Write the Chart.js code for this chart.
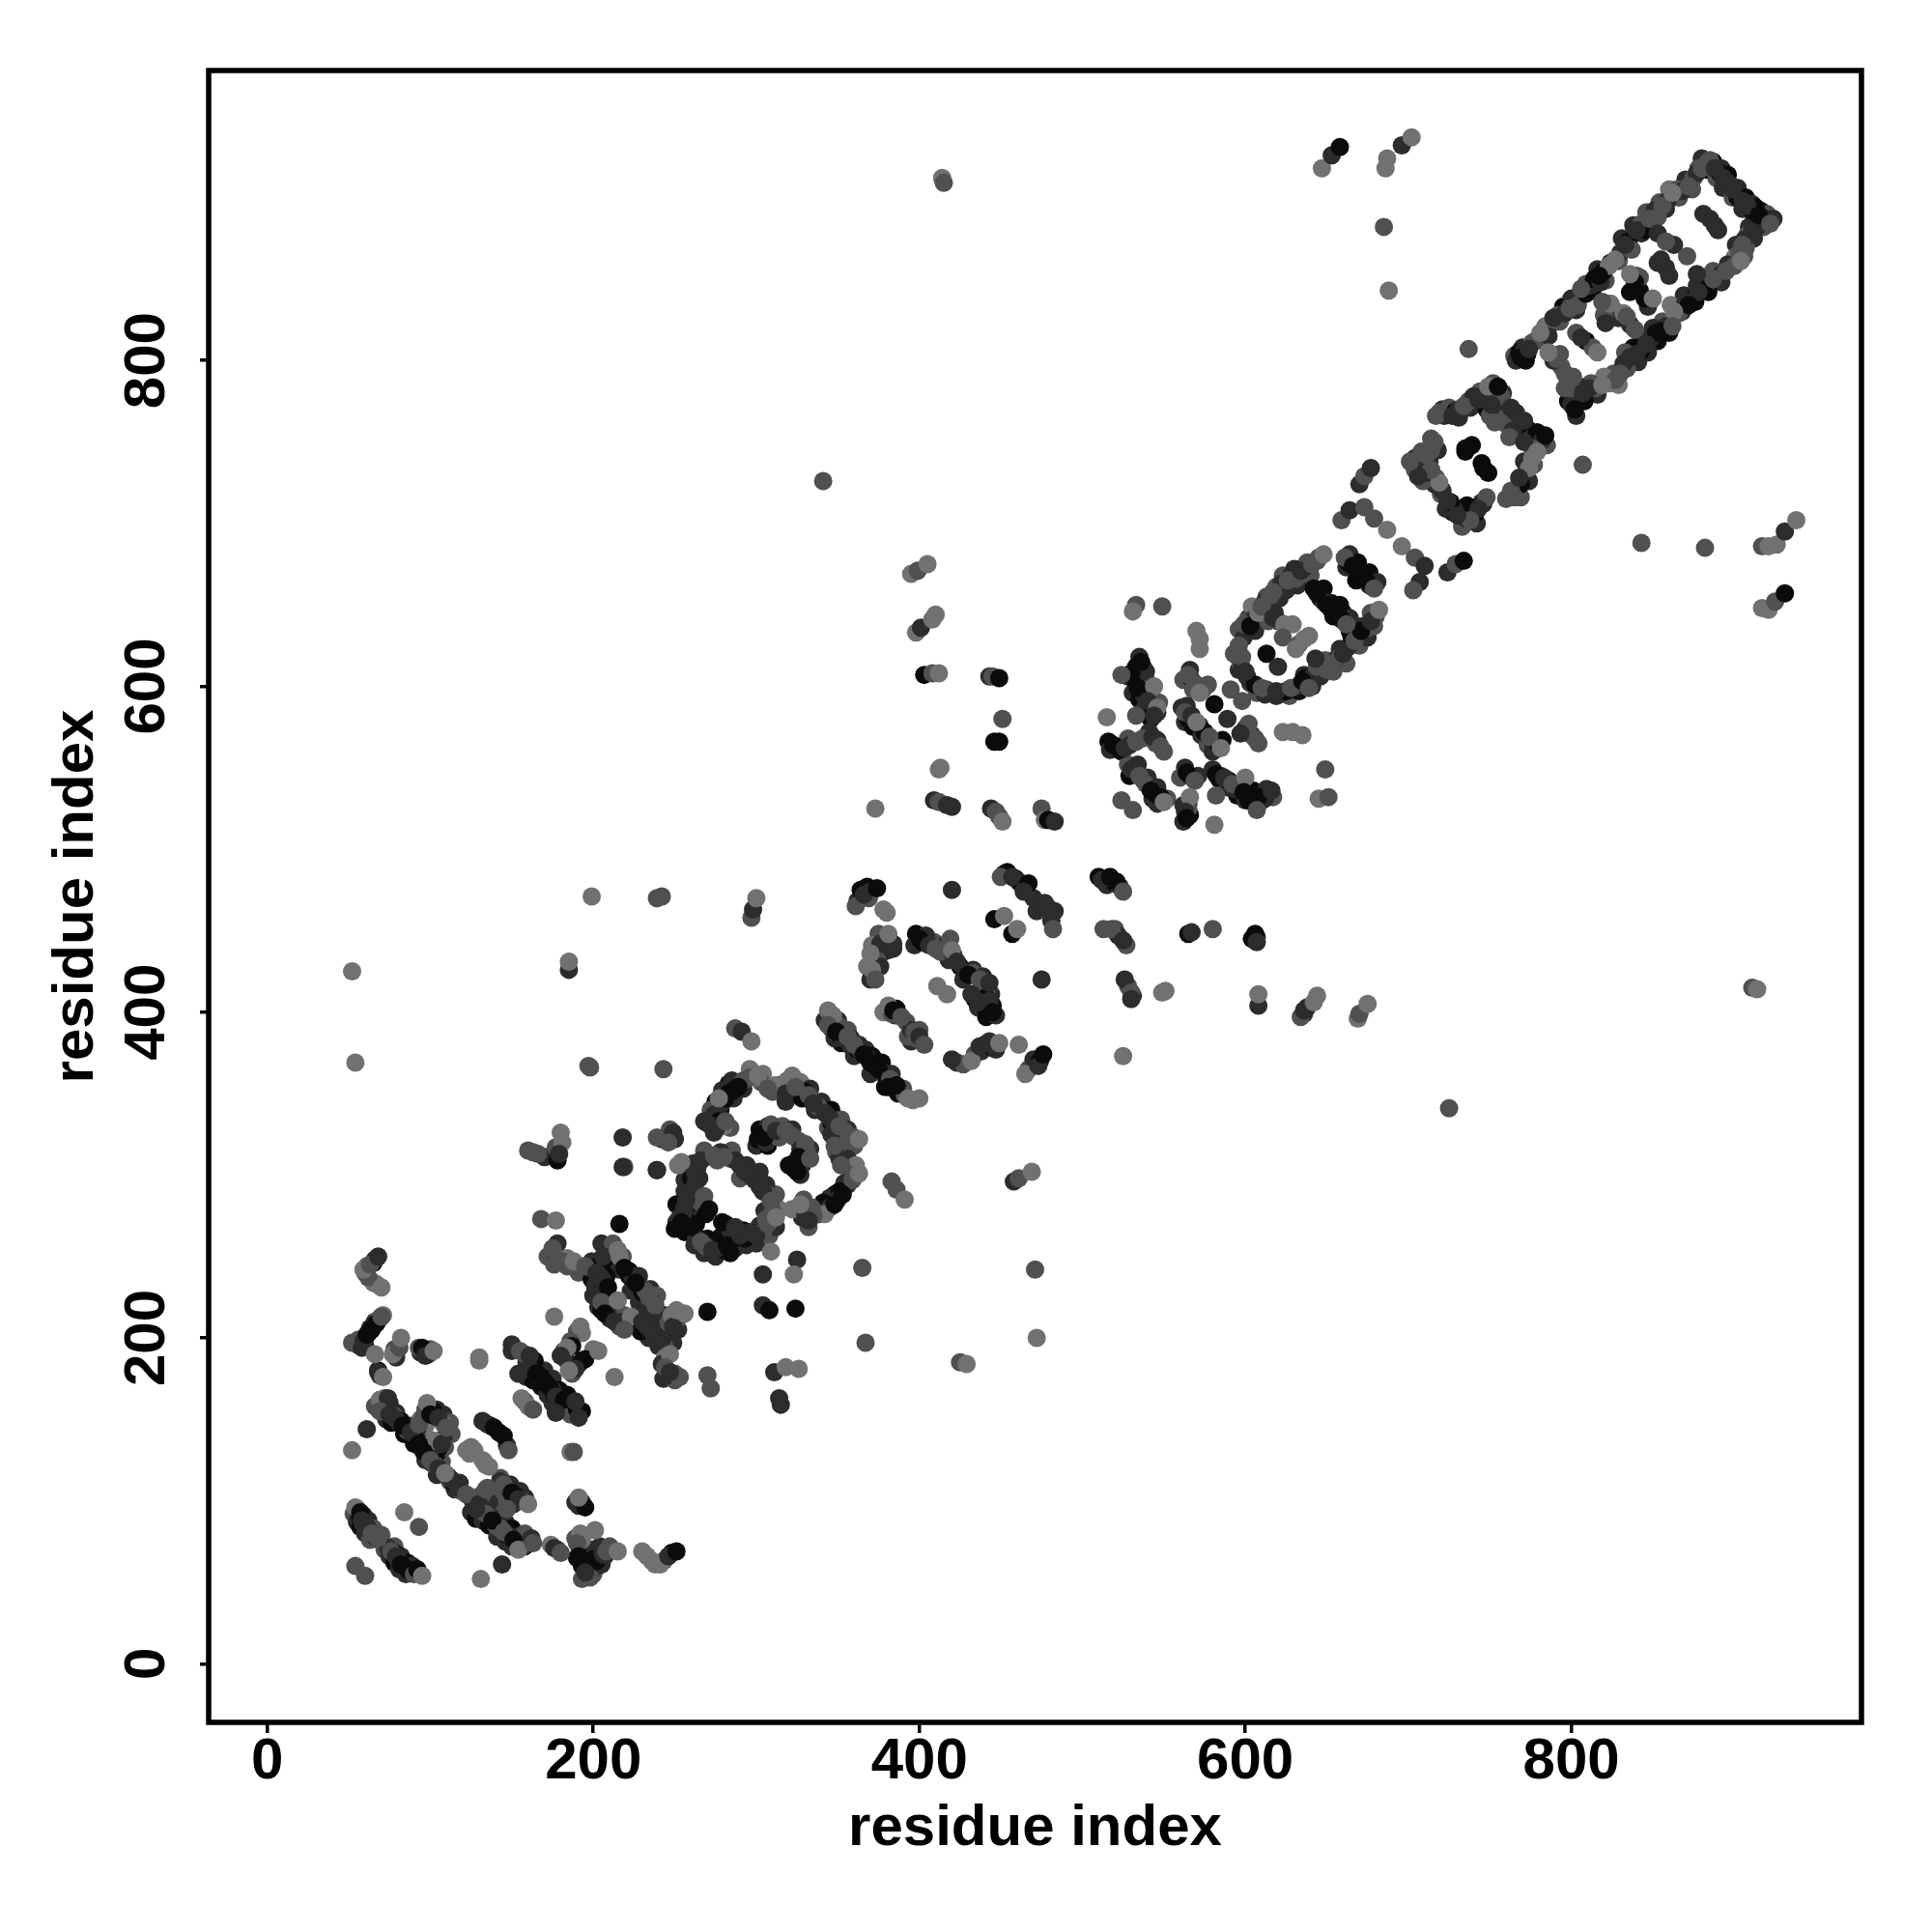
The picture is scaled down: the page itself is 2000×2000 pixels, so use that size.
<!DOCTYPE html>
<html>
<head>
<title>Residue contact map</title>
<script src="https://cdn.jsdelivr.net/npm/chart.js"></script>
<style>body { margin: 0; background: #fff; }</style>
</head>
<body>
<canvas id="contactChart" width="2000" height="2000"></canvas>
<script>
const tickValues = [0, 200, 400, 600, 800];
const axisLabel = "residue index";
// score: 0 strongest (black) .. 3 weakest (grey)
const scoreColors = ["#0b0b0b", "#2c2c2c", "#505050", "#717171"];

// each contact is [residue x, residue y, score]
const lowerLeftEdges = [
  [70,160,1],[66,158,2],[73,150,1],[76,148,0],[79,154,1],[84,141,0],[88,146,1],[90,135,0],[96,137,1],[97,125,1],[102,128,1],[104,116,1],[107,124,2],[112,112,2],[115,107,1],[118,111,1],[97,156,2],[104,156,1],[108,153,1],[112,148,2],[113,141,2],[104,129,0],[100,136,1],[97,146,3],[92,144,1],
  [125,93,1],[128,89,0],[132,88,1],[136,85,0],[141,78,1],[146,75,1],[150,72,1],[137,97,1],[141,91,2],[146,87,1],[150,83,0],[153,78,1],[158,80,2],[148,100,1],[144,104,1],[151,98,1],[143,114,2],[149,110,1],[155,106,1],[158,102,1],
  [53,92,2],[55,87,1],[57,84,0],[60,80,1],[63,76,2],[72,70,2],[75,66,1],[78,62,0],[81,58,1],[85,55,1],[59,91,1],[62,88,1],[65,83,2],[70,79,2],[78,72,2],[82,66,1],[86,62,0],[89,60,1],
  [150,196,1],[159,185,1],[159,176,1],[163,174,0],[168,170,0],[172,165,1],[175,160,1],[180,157,1],[186,153,2],[170,180,1],[175,175,1],[179,168,0],[184,165,0],[188,158,1],[193,155,0],
  [190,65,0],[193,60,0],[196,58,0],[200,57,1],[205,61,1],[196,68,0],[199,70,1],[204,72,1],[210,72,2],[193,52,2],
  [178,258,1],[172,250,2],[176,245,2],[184,244,2],[191,240,2],[199,236,0],[201,232,1],[203,227,0],[209,224,1],[213,217,1],[219,214,2],[218,210,1],[205,258,1],[210,252,1],[209,243,0],[216,242,1],[223,229,1],[228,222,1],[233,216,1],[238,212,1],[240,200,0],[245,198,0],[234,200,1],[229,204,0],[222,238,0],[228,238,1],[235,230,1],[239,226,2],[244,214,1],[252,205,1],[249,197,1],[244,194,2],[243,175,1],[250,174,2]
];

const firstClusterEdges = [
  [268,315,2],[261,307,1],[259,303,0],[256,297,1],[265,298,1],[256,290,1],[261,286,1],[251,282,0],[259,278,1],[251,271,1],[250,267,0],[256,265,0],[263,270,0],[262,257,1],[268,252,1],[270,261,0],[275,250,1],[280,254,0],[278,262,0],[287,255,1],[284,252,0],[292,266,0],[294,257,1],[300,258,1],[302,269,1],[308,263,2],[312,268,1],[314,279,3],[305,278,1],[312,288,2],[306,294,1],[299,297,1],[302,302,1],[294,306,1],[285,315,2],[278,314,1],[290,298,2],
  [283,356,0],[279,352,1],[275,345,0],[272,340,2],[268,333,1],[274,326,1],[284,329,2],[278,340,0],[286,347,1],[292,353,1],[296,365,3],[304,362,3],[310,351,2],[314,355,1],[318,345,1],[319,358,3],[327,357,3],[333,353,1],[336,340,1],[340,345,1],[346,340,0],[344,329,2],[352,334,2],[356,328,1],[360,318,2],[354,318,2],[356,310,1],[361,306,3],[356,294,1],[348,288,0],[345,286,1],[341,283,0],[338,276,1],[332,268,2],[328,274,1],[322,279,3],
  [302,328,0],[307,330,1],[300,318,1],[307,318,0],[316,330,2],[322,328,1],[326,321,2],[333,316,1],[329,309,0],[320,306,0],[327,300,1],
  [342,395,1],[344,401,3],[350,395,1],[352,381,0],[348,384,1],[356,389,2],[360,373,1],[363,380,1],[367,377,1],[371,373,0],[370,362,1],[377,369,0],[379,354,0],[383,362,1],[387,350,0],[390,353,2],
  [378,437,1],[375,448,2],[384,439,1],[371,441,3],[368,428,3],[370,420,1],[398,448,0],[397,441,1],[405,444,1],[409,443,2],[418,432,1],[427,420,1],[433,426,1],[439,415,0],[436,403,1],[445,404,0],[444,411,1],[441,397,0],[447,398,1],
  [358,384,1],[395,382,1],[400,389,2],[393,385,2],[378,400,3],[385,398,1]
];

const secondClusterEdges = [
  [535,618,1],[533,612,0],[528,606,1],[531,596,1],[539,604,2],[535,592,0],[538,586,1],[547,590,2],[542,580,0],[516,566,0],[517,561,1],[524,560,1],[528,568,2],[541,572,1],[550,560,2],[562,604,2],[566,610,1],[561,587,1],[563,578,1],[568,575,0],[573,570,1],[577,564,2],[580,560,1],[528,552,2],[534,552,1],[529,545,0],[540,544,1],[543,531,1],[546,528,1],[563,550,1],[571,545,1],[562,517,1],[566,521,0],[580,549,1],[584,543,0],[589,538,1],[595,533,0],[600,530,1],[605,536,0],[609,529,1],[617,532,2],[606,528,1],
  [596,635,2],[599,630,1],[593,620,2],[602,642,1],[606,646,2],[604,649,3],[613,655,2],[610,641,0],[616,648,2],[621,654,1],[623,668,2],[625,659,1],[630,672,1],[632,662,1],[638,671,1],[644,677,2],[640,668,2],[596,610,1],[603,602,1],[607,596,2],[612,595,1],[619,594,1],[627,594,2],[633,597,0],[640,603,1],[636,607,1],[646,606,1],[649,616,2],[654,609,2],[658,623,1],[662,614,2],[664,634,0],[670,625,2],[668,637,1],[675,630,1],[679,637,2],[677,645,2],[664,681,1],[669,676,0],[676,670,0],[681,664,1],[662,673,1],[668,665,0],[642,660,0],[648,660,0],[653,651,0],[660,645,0],[664,642,1]
];

const upperRightEdges = [
  [765,803,2],[770,808,1],[773,804,0],[778,812,1],[783,813,2],[787,822,1],[793,824,2],[795,833,0],[800,838,1],[803,831,1],[809,847,2],[813,843,0],[816,856,1],[821,849,2],[824,860,1],[829,861,2],[831,875,1],[836,869,0],[838,883,1],[843,878,1],[846,891,2],[850,885,0],[854,897,2],[858,893,1],[860,905,3],[866,900,2],[870,911,1],[874,905,2],[880,924,1],[884,917,0],[878,918,2],
  [887,922,0],[892,918,1],[889,912,2],[896,914,0],[893,906,1],[902,906,1],[899,900,2],[907,900,0],[905,893,1],[911,896,1],[916,892,0],[912,886,1],[920,890,2],[918,882,2],[924,887,1],
  [909,882,1],[912,875,1],[907,869,2],[901,871,1],[900,863,3],[906,864,2],[896,859,1],[892,848,1],[887,855,2],[882,851,2],[884,842,0],[877,846,1],[876,836,0],[869,840,1],[868,830,1],[861,834,3],[860,817,0],[856,824,2],[850,820,1],[853,812,0],[844,813,1],[847,805,1],[838,808,0],[841,799,1],[833,805,2],[834,795,2],[826,792,2],[829,785,3],[820,790,3],[816,779,1],[812,786,2],[805,784,1],[808,775,0],[803,766,1],[798,775,0],[796,783,2],
  [836,842,0],[840,852,2],[848,836,0],[855,862,1],[858,857,1],[885,887,1],[888,883,1],[793,804,2],[796,792,2],[801,790,2],
  [721,770,1],[731,765,1],[738,771,1],[744,781,2],[758,780,1],[752,786,2],[757,776,1],[754,767,1],[760,761,2],[766,764,1],[773,758,0],[768,754,1],[780,750,1],[785,748,2],[777,736,2],[771,738,1],[774,726,1],[767,722,1],[760,715,2],[769,716,2],[746,712,1],[742,700,1],[736,706,0],[733,698,2],[727,707,0],[723,709,1],[720,718,2],[716,724,1],[709,726,2],[713,738,1],[704,740,1],[708,744,2],[718,745,1],[714,752,2]
];

const lowerLeftFill = [
  [55,95,2],[56,92,1],[57,90,0],[59,86,2],[61,84,0],[62,82,1],[66,78,1],[70,75,2],[72,73,2],[74,71,1],[78,68,0],[80,64,1],[83,60,0],[84,59,1],[88,57,0],[90,57,1],[93,56,2],
  [60,200,0],[62,203,0],[63,206,1],[65,207,0],[66,210,1],[68,211,2],[69,212,3],[71,214,3],[60,195,1],[55,196,2],[56,199,2],
  [94,191,1],[96,192,0],[99,190,2],[100,193,2],[78,193,2],[79,188,1],[68,180,0],[69,177,1],
  [65,246,0],[66,248,1],[60,240,2],[61,244,3],[65,234,3],[67,233,3],
  [72,163,2],[75,160,1],[71,158,1],[72,156,0],[77,151,0],[78,152,2],[81,148,1],[82,149,0],[85,144,1],[86,143,2],[90,140,1],[91,138,0],[94,133,0],[95,132,1],[98,128,2],[99,127,1],[101,123,1],[103,122,2],[107,119,2],[111,115,1],[114,111,0],[119,106,2],[113,113,1],
  [99,157,2],[101,156,1],[102,155,0],[103,152,0],[107,149,2],[108,147,3],[111,143,2],[108,138,1],[109,133,2],[105,132,0],[103,134,1],[102,137,3],[94,150,3],[96,152,2],
  [127,131,3],[125,133,3],[133,124,3],[136,121,3],[135,147,0],[137,146,1],[142,142,0],[147,134,1],
  [126,100,1],[128,102,2],[131,96,0],[133,94,1],[136,90,0],[137,91,1],[140,85,1],[141,84,2],[143,83,2],[147,79,0],[149,78,1],[152,73,1],[156,74,2],[158,72,1],[160,75,2],[162,77,1],[141,108,2],[143,112,1],[147,108,0],[148,107,1],[152,103,0],[156,100,2],[140,100,2],[136,99,1],[132,104,2],[135,108,2],
  [178,70,2],[174,73,3],[193,99,1],[189,99,1],[193,68,1],[196,61,0],[199,62,0],[200,64,0],[204,65,1],[207,66,1],[212,70,2],[195,55,2],[200,55,2],[203,60,1],[189,77,2],[193,76,3],
  [233,66,3],[238,61,3],[243,63,2],[248,68,0],
  [158,190,2],[164,186,0],[164,180,0],[166,177,1],[170,173,0],[171,172,0],[175,168,1],[176,165,0],[180,163,0],[179,160,1],[184,158,1],[186,157,2],[190,156,0],[158,161,2],[160,158,3],
  [190,204,2],[193,203,3],[186,198,2],[182,192,2],[183,187,1],[191,184,1],[193,186,0],[187,178,2],[200,193,3],
  [177,252,1],[178,249,2],[184,249,3],[192,244,2],[198,243,1],[199,247,1],[203,244,0],[208,238,0],[204,238,1],[200,226,1],[203,219,1],[205,217,0],[210,212,1],[216,207,2],[222,241,0],[224,238,1],[228,231,1],[230,228,0],[232,229,2],[236,222,1],[225,208,0],[228,210,0],[233,207,1],[238,202,1],[240,206,1],[243,204,0],[246,209,2],[252,212,2],[248,214,3],[240,195,1],[244,188,3],[242,184,1],[245,177,1],[250,178,2],[218,250,2],[212,258,2]
];

const lowerLeft = [
  [62,237,2],[70,231,3],[59,242,3],[63,245,2],[68,250,1],
  [52,197,2],[58,194,1],[59,198,1],[61,202,0],[64,205,0],[67,209,0],[70,213,2],[66,190,3],[77,190,3],[81,194,2],[82,200,3],
  [93,194,2],[95,194,0],[97,189,1],[102,192,3],[68,179,1],[71,176,3],
  [130,186,3],[130,188,3],[69,162,3],[74,163,1],[69,155,2],[75,153,1],[79,150,1],[83,146,0],[88,142,1],[93,147,2],[93,135,0],[96,130,0],
  [98,160,3],[100,153,0],[105,151,1],[107,135,1],[110,145,2],[100,125,2],[105,120,1],[109,117,3],[117,108,1],[122,104,2],
  [61,144,1],[52,131,3],[122,131,3],[124,129,3],[132,125,3],[134,122,3],[132,149,1],[139,145,0],[145,140,0],[148,131,2],
  [130,98,1],[134,107,2],[134,92,2],[138,88,0],[145,81,2],[151,76,0],[154,70,3],[163,74,2],[145,110,2],[150,105,0],[154,101,1],[160,98,3],[147,95,2],[128,95,1],
  [176,71,1],[180,68,2],[191,97,1],[195,96,0],[191,102,3],[201,82,3],[192,80,3],[190,74,2],[191,66,0],[198,60,0],[202,63,0],[206,67,1],[208,69,2],[215,69,3],[198,53,2],[195,56,1],
  [230,69,3],[236,63,3],[241,61,3],[246,66,1],[251,69,0],
  [54,96,3],[57,93,0],[58,88,1],[60,85,1],[64,80,2],[68,77,2],[76,69,2],[79,66,1],[82,61,0],[86,58,0],[90,55,2],[92,58,0],[95,54,3],[84,93,3],[93,84,2],[54,60,2],[60,54,2],[131,52,3],[144,61,1],
  [150,192,1],[155,192,2],[161,189,1],[154,178,1],[161,181,1],[165,178,0],[168,176,0],[173,170,0],[177,164,1],[182,162,0],[189,161,1],[191,151,1],[177,154,1],[156,163,3],[163,156,2],[186,130,3],[188,130,2],[176,213,3],
  [192,207,3],[187,195,0],[184,194,3],[180,189,1],[195,187,0],[189,181,1],[185,180,3],[203,192,3],[213,176,3],
  [175,255,2],[181,247,2],[188,247,3],[195,244,2],[206,250,1],[215,254,3],[216,250,3],[202,240,1],[206,235,1],[209,231,0],[205,222,2],[207,215,0],[215,223,3],[213,210,1],
  [219,243,0],[226,234,0],[234,225,2],[238,220,2],[223,213,3],[230,210,1],[236,204,1],[242,199,1],[249,207,1],[251,217,3],[256,215,3],[219,205,2],[247,190,3],[244,182,2],[253,176,2],[247,179,1],
  [270,216,0],[270,177,2],[272,169,2],[168,273,2],[177,272,3],[216,270,0],[219,305,2],[239,303,1]
];

const firstClusterFill = [
  [362,468,1],[364,475,0],[368,477,0],[370,474,1],[369,470,2],[378,463,3],
  [452,485,1],[454,486,0],[459,482,0],[461,480,1],[463,478,0],[470,470,1],[472,462,1],[479,464,0],[480,460,2],[481,456,1],
  [378,445,2],[379,440,2],[381,438,1],[374,432,2],[376,428,1],[372,424,1],
  [402,443,0],[404,447,1],[413,437,2],[417,442,1],[421,435,1],[425,428,0],[428,425,1],[433,424,2],[439,422,1],[441,413,2],[434,408,0],[438,403,1],[441,401,0],[441,409,0],
  [383,399,2],[386,402,0],[392,394,2],[395,389,1],[398,384,2],
  [346,395,2],[346,390,1],[351,386,0],[353,384,1],[358,379,1],[362,377,0],[364,376,1],[368,372,1],[370,369,0],[373,367,0],[378,363,1],[380,358,0],[384,356,1],[388,351,0],[391,349,2],[396,346,3],[350,392,2],
  [423,369,1],[427,368,2],[434,374,2],[438,376,1],[440,380,0],[445,378,0],[447,377,1],[467,365,2],[470,371,1],[474,370,0],
  [285,358,1],[292,358,2],[283,350,0],[286,352,0],[279,344,1],[274,337,1],[277,333,0],[280,330,3],[275,328,1],[303,357,2],[311,355,3],[300,360,3],
  [320,355,3],[326,352,1],[328,347,0],[330,351,0],[338,342,2],[342,338,1],[346,332,0],[349,333,2],[354,327,2],[360,323,2],[346,325,1],[349,314,2],[351,310,1],[358,300,2],[354,295,1],[351,290,0],[350,285,1],[345,280,1],[342,276,3],[330,276,1],[335,275,2],[329,285,2],
  [301,322,0],[303,325,0],[306,320,1],[314,323,2],[322,324,2],[327,316,1],[331,314,2],[324,308,0],[328,306,1],[325,302,0],
  [269,311,2],[264,305,1],[260,298,0],[263,296,1],[260,290,1],[258,282,0],[256,280,1],[253,274,1],[257,272,0],[262,264,0],[263,261,1],[269,256,2],[276,255,1],[279,257,0],[285,260,0],[288,265,1],[293,261,0],[296,265,1],[304,265,2],[306,273,2],[310,278,2],[307,288,2],[304,290,1],[297,299,1],[290,306,1],[284,310,2],[276,309,2],[266,283,2],[269,276,0],[281,270,0],[284,266,1],
  [250,322,1],[247,328,2],[242,322,1],[252,306,3],[170,311,1],[177,317,2],[181,320,3],[178,309,0],[163,314,2]
];

const firstCluster = [
  [199,471,3],[242,471,2],[239,470,2],[297,458,2],[298,463,1],[300,470,3],[185,426,1],[185,431,3],[198,366,2],[197,367,2],[243,365,2],
  [361,465,2],[366,472,1],[374,476,0],[380,461,3],[420,475,1],[450,483,2],[457,483,1],[467,479,0],[464,474,1],[474,464,1],[477,467,1],[483,462,1],[482,451,2],
  [446,457,0],[452,459,3],[457,448,0],[460,451,3],[376,442,1],[384,442,1],[381,448,3],[370,436,3],[371,426,3],[373,420,2],
  [400,445,0],[406,441,1],[410,439,2],[419,445,2],[420,438,3],[423,431,1],[430,423,0],[437,420,2],[443,418,1],[436,406,1],[432,411,1],[443,407,1],[445,400,0],[475,420,1],[411,416,3],[417,411,3],
  [381,404,3],[384,401,0],[389,397,2],[397,388,2],[400,385,1],[403,380,2],
  [347,398,3],[344,392,2],[349,388,0],[356,385,2],[360,380,2],[366,374,0],[375,365,0],[382,359,2],[381,354,0],[386,355,0],[393,347,3],[400,347,3],
  [420,371,1],[432,370,3],[437,379,1],[443,382,1],[449,381,3],[461,380,3],[465,362,3],[473,367,1],[476,374,0],
  [287,390,2],[291,388,1],[297,382,3],[296,360,2],[301,361,3],[307,353,2],[289,354,0],[281,347,0],[277,347,3],[271,331,1],[281,333,2],
  [318,350,1],[322,361,3],[324,354,2],[332,349,2],[335,344,1],[345,335,1],[351,330,2],[357,324,2],[363,322,3],[348,318,2],[352,306,2],[359,297,2],[363,301,3],[353,288,0],[348,282,0],[334,280,2],[327,282,3],[332,272,1],
  [305,323,0],[309,331,2],[312,327,1],[318,327,2],[330,319,2],[326,311,0],[333,310,2],[323,304,0],
  [383,296,2],[386,291,2],[391,285,3],[458,296,1],[461,298,2],[469,302,3],[471,242,2],[472,200,3],[425,185,2],[429,184,3],[365,243,2],[367,197,2],
  [266,309,1],[274,312,2],[262,302,1],[262,293,1],[257,285,1],[255,276,1],[254,271,0],[260,268,0],[266,259,2],[273,254,1],[282,257,0],[290,263,1],[300,263,1],[307,270,2],[309,284,2],[312,274,3],[302,293,1],[293,302,1],[287,309,1],[280,311,2],[268,287,2],[271,279,0],[279,271,0],[287,268,1],
  [218,323,1],[218,305,1],[239,323,2],[249,326,1],[246,320,2],[239,303,1],[254,308,3],[160,315,2],[166,313,2],[179,313,1],[180,326,3],
  [309,253,3],[325,248,1],[323,239,3],[304,239,1],[304,220,1],[308,217,0],[324,218,0],[311,179,1],[318,182,3],[326,181,3],[314,163,1],[315,159,1]
];

const secondClusterFill = [
  [535,611,0],[537,612,0],[532,604,0],[539,609,1],[536,596,0],[538,594,1],[541,586,0],[543,590,2],[546,584,1],
  [521,563,1],[523,561,0],[529,564,1],[537,568,2],[546,567,1],[545,565,2],
  [567,604,1],[568,598,2],[574,598,2],[564,588,1],[565,580,0],[572,576,1],[575,572,0],[580,566,1],[583,565,0],[586,567,0],[604,570,1],[600,574,1],[606,568,2],
  [532,547,0],[533,550,1],[537,543,1],[539,540,2],[545,534,0],[546,538,1],[552,531,2],
  [560,544,2],[566,545,1],[565,528,0],[565,525,2],[562,527,1],[585,545,1],[590,542,0],[594,537,1],[597,538,0],[602,530,0],[604,533,0],[610,534,0],[613,537,1],[612,531,1],
  [515,478,1],[510,483,0],[519,480,0],[523,477,1],[520,451,2],[522,447,1],[527,441,2],[604,445,0],[528,416,2],[531,410,1],[607,446,1],[636,399,1],[638,403,1],
  [601,640,2],[605,641,1],[606,634,1],[596,625,2],[597,614,2],[598,611,1],[601,606,1],[606,601,0],[613,598,2],[616,596,1],[622,596,1],[625,597,0],[632,600,1],[637,605,0],[641,600,1],[642,607,1],[647,612,1],[650,610,2],[656,617,1],[658,618,2],[663,624,1],[665,631,0],[669,630,1],[673,637,1],[675,636,2],[680,643,2],
  [612,652,1],[615,655,2],[619,661,2],[622,663,1],[628,668,1],[631,666,2],[636,673,0],[638,676,2],[645,679,2],[663,676,0],[669,671,0],[671,668,0],[676,662,1],[646,654,0],[648,652,1],[652,648,0],[654,643,0],[659,641,0],[658,650,0],
  [620,640,2],[633,626,2],[636,629,3],[618,645,1],[614,640,2]
];

const secondCluster = [
  [395,669,3],[399,671,2],[405,675,3],[398,633,3],[401,636,1],[408,641,3],[410,644,3],[403,607,0],[408,608,2],[412,608,3],[412,549,3],[413,550,3],[409,530,1],[412,529,2],[417,527,1],[420,526,1],[373,525,3],[341,726,2],[414,912,3],[415,909,2],[52,425,3],[54,369,3],
  [443,606,1],[445,606,2],[449,605,0],[451,580,2],[446,566,0],[449,566,0],[444,525,1],[447,523,2],[449,520,2],[451,517,3],[475,525,2],[477,518,3],[479,518,0],[483,517,1],
  [533,650,2],[531,646,3],[549,649,2],[570,634,3],[572,629,3],[572,623,3],
  [536,615,0],[530,608,0],[524,607,2],[534,599,0],[544,600,3],[540,591,1],[546,587,3],[544,582,1],[515,581,3],[533,582,2],
  [519,564,0],[526,562,1],[533,566,2],[543,569,1],[548,563,2],
  [565,607,2],[570,601,2],[577,601,2],[572,596,3],[563,584,2],[567,582,1],[570,578,3],[581,589,0],[589,580,1],[591,598,2],[598,591,2],[602,577,2],[597,571,1],[608,565,2],[578,569,2],[585,562,3],
  [623,572,3],[629,572,3],[635,570,3],[649,549,2],[645,531,3],[651,532,2],
  [530,549,1],[535,545,2],[542,536,0],[548,532,0],[550,529,3],[524,530,2],[531,524,2],
  [564,547,0],[569,542,2],[566,532,3],[563,523,1],[564,519,0],[582,546,0],[587,544,1],[592,540,2],[600,544,3],[599,535,0],[608,532,0],[616,536,1],[607,524,2],[582,533,2],[581,515,3],
  [512,481,1],[517,483,0],[521,480,0],[525,474,2],[513,451,2],[518,451,2],[525,444,1],[565,448,0],[567,449,1],[580,451,2],[606,448,0],[607,443,1],
  [526,420,1],[530,412,2],[530,408,1],[549,412,3],[551,413,3],[608,404,1],[608,411,3],[634,397,2],[636,401,1],[642,406,3],[644,410,3],[669,396,3],[670,399,2],[675,405,3],[525,373,3],[725,341,2],[911,415,2],[914,414,3],
  [599,638,2],[603,637,0],[598,618,2],[600,609,1],[610,599,2],[619,597,1],[628,599,2],[635,603,0],[639,599,2],[644,612,2],[653,614,2],[660,620,1],[667,628,2],[671,634,0],[677,640,1],[682,647,3],
  [608,645,3],[610,649,2],[617,658,2],[626,665,2],[634,671,1],[641,675,2],[648,681,3],[661,679,2],[666,674,0],[674,665,0],[679,660,2],
  [644,657,0],[650,650,0],[656,646,0],[662,638,2],[617,642,1],[624,638,3],[629,638,3],[639,631,3],[623,630,2],[631,623,3],[613,620,0],[620,612,1],[643,617,1]
];

const upperRightFill = [
  [719,768,2],[722,766,1],[725,771,2],[729,769,0],[731,770,1],[737,775,2],[740,778,1],[746,776,2],[748,780,1],[752,782,0],[752,779,1],[748,770,0],[750,766,2],[756,769,1],[760,765,2],[766,768,1],[769,757,0],[764,757,1],[775,752,1],[779,756,0],[782,751,1],[776,746,2],[776,740,3],[772,730,1],[769,724,0],[763,720,2],[745,713,1],[741,706,0],[739,708,1],[735,703,1],[736,711,0],[728,709,1],[726,713,0],[721,720,1],[717,728,2],[712,731,1],[708,734,2],[704,733,2],[710,738,1],[714,745,2],[735,744,0],[739,748,0],[749,731,0],[745,737,0],[757,778,2],
  [766,800,1],[768,805,0],[771,806,1],[772,800,0],[776,811,2],[784,821,3],[786,815,1],[792,828,2],[796,829,1],[802,837,1],[804,834,2],[809,841,0],[812,846,1],[814,850,0],[818,848,1],[820,855,0],[823,858,3],[830,866,1],[835,873,0],[837,868,2],[843,884,2],[845,880,0],[851,892,1],[853,888,2],[859,898,1],[865,905,2],[868,904,1],[875,912,2],[877,915,1],[880,918,2],[885,923,2],[891,915,0],[893,912,1],[897,908,1],[902,900,0],[905,898,1],[911,892,0],[913,894,0],[918,887,0],[920,886,1],[914,882,1],[908,877,2],[906,874,1],[903,866,2],[900,858,2],[892,853,1],[884,848,1],[881,844,0],[875,838,0],[870,836,1],[866,829,2],[858,821,1],[855,818,0],[849,814,1],[843,806,0],[840,804,1],[832,798,1],[830,792,2],[823,786,3],[815,783,2],[811,783,1],[804,775,0],[800,773,1],[800,783,2],[794,796,2],[789,800,1],
  [842,843,0],[847,833,1],[842,851,2],[826,831,2],[829,826,1],[832,829,3],[836,822,1],[820,828,2],[809,812,0],[813,808,2],[803,817,2]
];

const upperRight = [
  [647,918,3],[653,926,1],[658,931,0],[686,918,3],[687,924,3],[696,932,1],[702,937,3],[685,882,2],[688,843,3],[737,807,2],[807,736,2],
  [843,688,2],[882,685,2],[917,686,2],[921,686,3],[926,687,3],[931,695,1],[938,702,3],[917,648,3],[921,647,3],[925,652,2],[931,657,0],
  [670,724,1],[673,729,2],[677,734,1],[659,702,2],[664,708,1],[673,710,2],[679,703,2],[687,696,3],[696,686,3],[704,679,2],[710,674,1],[707,664,1],[703,659,2],[724,670,1],[729,675,2],[734,677,0],
  [717,766,2],[727,766,1],[734,772,2],[743,776,1],[749,784,3],[755,784,0],[751,773,1],[753,762,2],[763,771,1],[771,763,1],[762,753,2],[771,750,1],[784,754,0],[779,744,3],[774,734,3],[768,728,1],[765,716,2],
  [748,716,2],[743,709,1],[738,702,2],[730,705,1],[724,714,1],[719,725,3],[714,733,2],[706,729,1],[701,738,2],[711,742,2],[716,750,2],[735,746,0],[746,734,0],
  [769,802,0],[774,807,1],[781,817,3],[789,826,1],[799,832,2],[806,844,2],[817,852,0],[827,862,3],[833,871,1],[840,880,1],[848,887,2],[856,895,2],[862,903,3],[872,907,2],[883,921,2],[888,918,1],[895,910,1],[899,905,1],[908,895,1],[915,889,0],[922,884,2],
  [911,879,1],[905,871,2],[904,861,3],[895,855,2],[887,850,2],[878,842,1],[872,834,0],[863,830,3],[862,821,2],[852,817,0],[846,810,1],[836,802,1],[827,788,2],[819,785,3],[807,780,1],[802,770,0],[798,788,2],[791,801,2],[786,805,3],
  [806,814,1],[816,805,3],[834,827,2],[839,819,2],[824,835,3],[819,836,2],[821,823,1],[845,838,0],[850,838,3],[839,848,0],[836,853,3],[853,860,1],[860,852,1],[863,871,1],[853,878,1],[858,873,2],[871,864,2],[877,853,1],[881,890,1],[890,880,1]
];

const contacts = [
  ...lowerLeftEdges, ...firstClusterEdges, ...secondClusterEdges, ...upperRightEdges,
  ...lowerLeftFill, ...firstClusterFill, ...secondClusterFill, ...upperRightFill,
  ...lowerLeft, ...firstCluster, ...secondCluster, ...upperRight
];

function fixedTicks(scale) {
  scale.ticks = tickValues.map(v => ({ value: v, label: String(v) }));
}

const framePlugin = {
  id: "frame",
  afterDraw(chart) {
    const { ctx, chartArea: a } = chart;
    ctx.save();
    ctx.strokeStyle = "#000";
    ctx.lineWidth = 5.5;
    ctx.strokeRect(a.left, a.top, a.right - a.left, a.bottom - a.top);
    ctx.restore();
  }
};

const axisFont = { family: "'Liberation Sans'", size: 60, weight: "bold" };

new Chart(document.getElementById("contactChart"), {
  type: "scatter",
  data: {
    datasets: [{
      data: contacts.map(c => ({ x: c[0], y: c[1] })),
      backgroundColor: contacts.map(c => scoreColors[c[2]]),
      borderWidth: 0,
      pointRadius: 9.5,
      pointHoverRadius: 9.5
    }]
  },
  plugins: [framePlugin],
  options: {
    responsive: false,
    animation: false,
    layout: { padding: { top: 73, right: 73, left: 0, bottom: 0 } },
    plugins: { legend: { display: false }, tooltip: { enabled: false } },
    scales: {
      x: {
        type: "linear",
        min: -36,
        max: 978,
        afterBuildTicks: fixedTicks,
        afterFit(scale) { scale.height = 217; },
        grid: { drawOnChartArea: false, color: "#000", lineWidth: 3.5, tickLength: 11 },
        border: { display: false },
        ticks: { color: "#000", font: axisFont, padding: -6, maxRotation: 0, minRotation: 0, autoSkip: false },
        title: { display: true, text: axisLabel, color: "#000", font: axisFont, padding: { top: 0, bottom: 71 } }
      },
      y: {
        type: "linear",
        min: -36,
        max: 978,
        afterBuildTicks: fixedTicks,
        afterFit(scale) { scale.width = 216; },
        grid: { drawOnChartArea: false, color: "#000", lineWidth: 3.5, tickLength: 9 },
        border: { display: false },
        ticks: { color: "#000", font: axisFont, padding: 3, minRotation: 90, maxRotation: 90, crossAlign: "center", autoSkip: false },
        title: { display: true, text: axisLabel, color: "#000", font: axisFont, padding: { top: 43, bottom: 0 } }
      }
    }
  }
});
</script>
</body>
</html>
